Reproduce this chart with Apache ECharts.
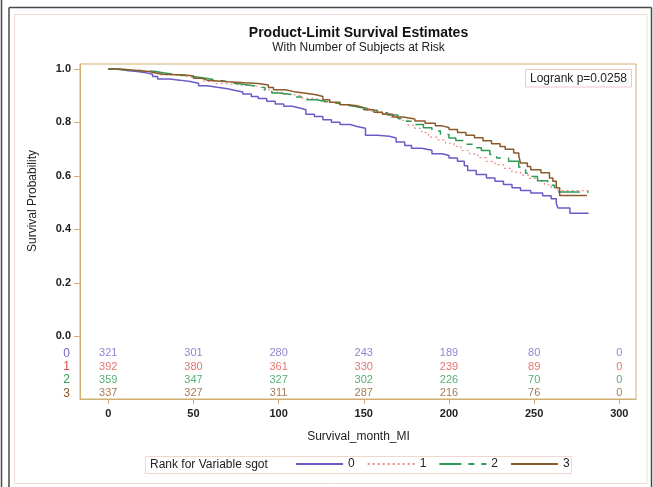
<!DOCTYPE html>
<html>
<head>
<meta charset="utf-8">
<script src="https://cdn.jsdelivr.net/npm/echarts@6/dist/echarts.min.js"></script>
<style>
html,body{margin:0;padding:0;background:#fff;}
#chart{width:653px;height:487px;}
</style>
</head>
<body>
<div id="chart"></div>
<script>
// ---------- data ----------
const groupNames = ['0', '1', '2', '3'];
const xTicks = [0, 50, 100, 150, 200, 250, 300];
const yTicks = [0, 0.2, 0.4, 0.6, 0.8, 1.0];

// Kaplan-Meier step points [time, survival]
const surv0 = [[0,1],[4,0.997],[8,0.993],[12,0.99],[17,0.986],[22,0.98],[26,0.972],[29,0.962],[36,0.958],[42,0.953],[48,0.946],[53,0.937],[58,0.931],[64,0.926],[70,0.92],[74,0.914],[79,0.906],[84,0.897],[88,0.889],[93,0.879],[98,0.869],[103,0.86],[108,0.853],[113,0.847],[116,0.83],[121,0.822],[126,0.81],[131,0.801],[136,0.792],[142,0.785],[146,0.778],[151,0.752],[158,0.748],[165,0.742],[169,0.727],[174,0.714],[178,0.703],[184,0.696],[190,0.683],[196,0.676],[200,0.667],[205,0.655],[209,0.638],[211,0.62],[216,0.605],[222,0.592],[227,0.58],[232,0.568],[237,0.556],[242,0.545],[248,0.536],[255,0.526],[260,0.515],[263,0.497],[264,0.48],[271,0.46],[282,0.46]];
const surv1 = [[0,1],[6,0.997],[12,0.994],[18,0.991],[24,0.988],[29,0.978],[36,0.975],[42,0.968],[50,0.962],[56,0.953],[62,0.945],[68,0.94],[78,0.937],[86,0.93],[90,0.922],[96,0.913],[102,0.905],[108,0.898],[114,0.89],[120,0.885],[125,0.876],[131,0.869],[137,0.862],[143,0.857],[148,0.85],[154,0.842],[160,0.832],[166,0.82],[171,0.808],[176,0.79],[180,0.778],[184,0.762],[188,0.745],[193,0.735],[198,0.722],[203,0.71],[207,0.695],[212,0.682],[217,0.668],[222,0.654],[227,0.642],[232,0.628],[237,0.614],[242,0.603],[247,0.591],[252,0.58],[256,0.567],[260,0.555],[264,0.545],[282,0.545]];
const surv2 = [[0,1],[5,0.997],[10,0.995],[16,0.993],[22,0.99],[28,0.985],[33,0.98],[38,0.975],[45,0.97],[52,0.965],[57,0.96],[62,0.955],[68,0.948],[73,0.942],[80,0.935],[87,0.93],[92,0.92],[96,0.91],[100,0.904],[108,0.895],[116,0.885],[122,0.878],[128,0.872],[134,0.865],[140,0.858],[146,0.853],[152,0.845],[158,0.836],[164,0.828],[170,0.815],[175,0.804],[180,0.792],[185,0.78],[190,0.768],[195,0.755],[200,0.742],[204,0.732],[209,0.718],[214,0.705],[219,0.695],[224,0.68],[228,0.667],[235,0.655],[241,0.632],[245,0.61],[248,0.598],[252,0.582],[258,0.565],[262,0.552],[264,0.54],[282,0.54]];
const surv3 = [[0,1],[6,0.997],[12,0.993],[18,0.99],[24,0.985],[28,0.98],[32,0.977],[45,0.973],[50,0.965],[55,0.958],[58,0.952],[70,0.948],[80,0.945],[88,0.94],[94,0.93],[97,0.922],[104,0.915],[109,0.909],[116,0.903],[122,0.897],[126,0.885],[130,0.875],[136,0.866],[141,0.862],[146,0.855],[150,0.847],[156,0.838],[161,0.83],[167,0.82],[173,0.813],[180,0.805],[186,0.797],[192,0.787],[196,0.781],[200,0.773],[205,0.762],[210,0.752],[215,0.743],[220,0.731],[225,0.72],[230,0.71],[233,0.7],[238,0.686],[241,0.675],[242,0.648],[246,0.635],[248,0.623],[254,0.612],[259,0.592],[261,0.58],[263,0.556],[265,0.527],[281,0.527]];

// number of subjects at risk at xTicks
const atRisk0 = [321, 301, 280, 243, 189, 80, 0];
const atRisk1 = [392, 380, 361, 330, 239, 89, 0];
const atRisk2 = [359, 347, 327, 302, 226, 70, 0];
const atRisk3 = [337, 327, 311, 287, 216, 76, 0];

const pValueText = 'Logrank p=0.0258';

// ---------- styling ----------
const FONT = '"Liberation Sans", Arial, sans-serif';
const lineColors = ['#6A5CC8', '#F08A8A', '#2E9A55', '#8B5A2B'];
const textColors = ['#7466C4', '#E0504A', '#2E9A55', '#8B5A2B'];
const lineTypes = ['solid', [2, 3], [22, 7, 6, 7], 'solid'];
const lineWidths = [1.5, 1.2, 1.5, 1.5];
const axisColor = '#CFAE70';
const survData = [surv0, surv1, surv2, surv3];
const riskData = [atRisk0, atRisk1, atRisk2, atRisk3];

const X_MIN = -16.6, X_MAX = 309.8;

const series = [];
survData.forEach((d, i) => {
  series.push({
    name: groupNames[i], type: 'line', xAxisIndex: 0, yAxisIndex: 0,
    step: 'end', symbol: 'none', showSymbol: false, data: d,
    legendIcon: 'none',
    lineStyle: { color: lineColors[i], width: lineWidths[i], type: lineTypes[i] },
    itemStyle: { color: lineColors[i] },
    emphasis: { disabled: true }, z: 2 + i
  });
});
riskData.forEach((arr, i) => {
  series.push({
    name: 'risk' + i, type: 'scatter', xAxisIndex: 1, yAxisIndex: 1,
    symbolSize: 0, silent: true,
    data: arr.map((v, k) => [xTicks[k], groupNames[i], v]),
    label: { show: true, position: 'inside', formatter: p => String(p.value[2]),
      color: textColors[i], fontSize: 11, fontFamily: FONT }
  });
});

const chart = echarts.init(document.getElementById('chart'), null, { renderer: 'canvas' });
chart.setOption({
  animation: false,
  backgroundColor: '#fff',
  textStyle: { fontFamily: FONT },
  grid: [
    { left: 80, right: 17, top: 64, bottom: 88, show: true, borderColor: axisColor, borderWidth: 1, backgroundColor: 'transparent', outerBoundsMode: 'none' },
    { left: 80, right: 17, top: 346.5, bottom: 87, show: false, outerBoundsMode: 'none' }
  ],
  xAxis: [
    { type: 'value', gridIndex: 0, min: X_MIN, max: X_MAX,
      axisLine: { show: true, onZero: false, lineStyle: { color: axisColor } },
      axisTick: { show: true, length: 5, lineStyle: { color: axisColor }, customValues: xTicks },
      axisLabel: { customValues: xTicks, color: '#222', fontSize: 11, fontWeight: 'bold', margin: 9, fontFamily: FONT },
      splitLine: { show: false } },
    { type: 'value', gridIndex: 1, min: X_MIN, max: X_MAX, show: false }
  ],
  yAxis: [
    { type: 'value', gridIndex: 0, min: -0.234, max: 1.0183,
      axisLine: { show: true, onZero: false, lineStyle: { color: axisColor } },
      axisTick: { show: true, length: 6, lineStyle: { color: axisColor }, customValues: yTicks },
      axisLabel: { customValues: yTicks, formatter: v => v.toFixed(1), color: '#222', fontSize: 11, fontWeight: 'bold', margin: 9, fontFamily: FONT },
      splitLine: { show: false } },
    { type: 'category', gridIndex: 1, data: groupNames, inverse: true,
      axisLine: { show: false }, axisTick: { show: false }, splitLine: { show: false },
      axisLabel: { show: true, interval: 0, margin: 10, fontSize: 12, fontFamily: FONT,
        color: (v, idx) => textColors[groupNames.indexOf(v)] } }
  ],
  legend: {
    data: groupNames, left: 295, top: 458, padding: 0,
    itemWidth: 47, itemHeight: 14, itemGap: 12,
    itemStyle: { opacity: 0, borderWidth: 0 },
    textStyle: { color: '#222', fontSize: 12, fontFamily: FONT },
    selectedMode: false
  },
  series: series,
  graphic: [
    { type: 'line', shape: { x1: 1.5, y1: 0, x2: 1.5, y2: 487 }, style: { stroke: '#4a4a4a', lineWidth: 1.5 }, silent: true },
    { type: 'line', shape: { x1: 9, y1: 7.5, x2: 9, y2: 487 }, style: { stroke: '#4a4a4a', lineWidth: 1.5 }, silent: true },
    { type: 'line', shape: { x1: 9, y1: 7.5, x2: 651.5, y2: 7.5 }, style: { stroke: '#4a4a4a', lineWidth: 1.5 }, silent: true },
    { type: 'line', shape: { x1: 651.5, y1: 7.5, x2: 651.5, y2: 487 }, style: { stroke: '#4a4a4a', lineWidth: 1.5 }, silent: true },
    { type: 'rect', shape: { x: 14.5, y: 14.5, width: 632.5, height: 469 }, style: { fill: 'none', stroke: '#EEDDD5', lineWidth: 1 }, silent: true },
    { type: 'text', x: 358.5, y: 33, silent: true,
      style: { text: 'Product-Limit Survival Estimates', font: 'bold 14px ' + FONT, fill: '#111', textAlign: 'center', textVerticalAlign: 'middle' } },
    { type: 'text', x: 358.5, y: 48, silent: true,
      style: { text: 'With Number of Subjects at Risk', font: '12px ' + FONT, fill: '#222', textAlign: 'center', textVerticalAlign: 'middle' } },
    { type: 'rect', shape: { x: 525.5, y: 69.5, width: 106, height: 17.5 }, style: { fill: '#fff', stroke: '#F0C8C8', lineWidth: 1 }, silent: true, z: 10 },
    { type: 'text', x: 578.5, y: 78.5, silent: true, z: 11,
      style: { text: pValueText, font: '12px ' + FONT, fill: '#222', textAlign: 'center', textVerticalAlign: 'middle' } },
    { type: 'text', x: 32.5, y: 201, rotation: Math.PI / 2, silent: true,
      style: { text: 'Survival Probability', font: '12px ' + FONT, fill: '#222', textAlign: 'center', textVerticalAlign: 'middle' } },
    { type: 'text', x: 358.5, y: 437, silent: true,
      style: { text: 'Survival_month_MI', font: '12px ' + FONT, fill: '#222', textAlign: 'center', textVerticalAlign: 'middle' } },
    { type: 'rect', shape: { x: 145.5, y: 456.5, width: 426, height: 17 }, style: { fill: 'none', stroke: '#EED8D0', lineWidth: 1 }, silent: true },
    { type: 'text', x: 150, y: 465, silent: true,
      style: { text: 'Rank for Variable sgot', font: '12px ' + FONT, fill: '#222', textAlign: 'left', textVerticalAlign: 'middle' } }
  ]
});
</script>
</body>
</html>
